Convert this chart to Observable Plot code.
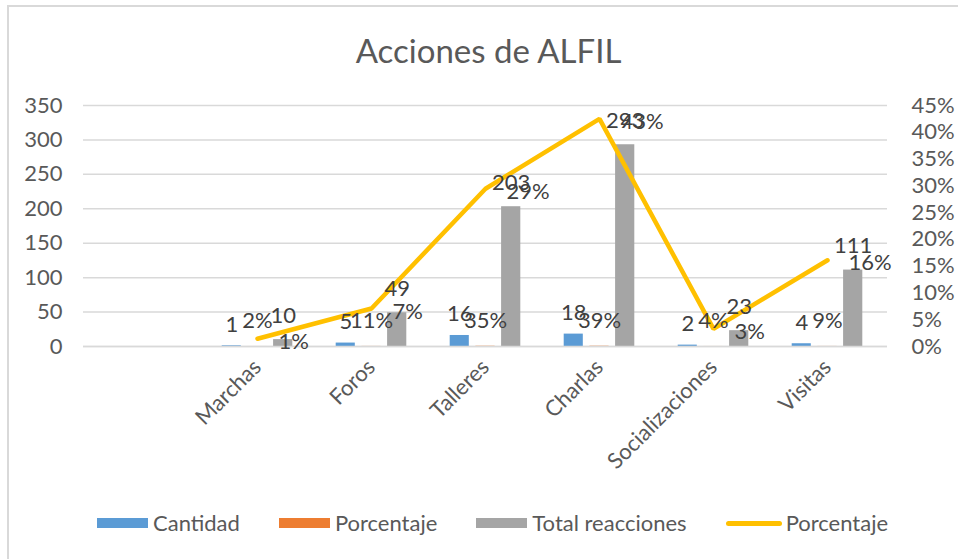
<!DOCTYPE html>
<html>
<head>
<meta charset="utf-8">
<script src="https://cdn.jsdelivr.net/npm/d3@7"></script>
<script src="https://cdn.jsdelivr.net/npm/@observablehq/plot@0.6"></script>
<style>
  body { margin: 0; background: #fff; font-family: Lato, "Open Sans", sans-serif; }
  #wrap { position: relative; width: 958px; height: 559px; overflow: hidden; background: #fff; }
  #frame { position: absolute; left: 7px; top: 5px; width: 1000px; height: 600px;
           border-left: 2px solid #d9d9d9; border-top: 2px solid #d9d9d9; pointer-events: none; }
  #chart { position: absolute; left: 0; top: 0; }
  #title { position: absolute; left: 0; width: 977px; top: 30px; text-align: center;
           font-size: 33px; color: #595959; line-height: 40px; }
  #legend { position: absolute; left: 97px; top: 510px; display: flex; align-items: center;
            font-size: 22px; color: #595959; line-height: 26px; }
  .item { display: flex; align-items: center; margin-right: 39px; }
  .item:last-child { margin-right: 0; }
  .sw { width: 51px; height: 10px; margin-right: 5px; }
  .ln { width: 56px; height: 5px; border-radius: 3px; margin-right: 4px; }
</style>
</head>
<body>
<div id="wrap">
  <div id="title">Acciones de ALFIL</div>
  <div id="chart"></div>
  <div id="legend"></div>
  <div id="frame"></div>
</div>
<script>
// ---- data ----
const categories = ["", "Marchas", "Foros", "Talleres", "Charlas", "Socializaciones", "Visitas"];
const actions = ["Marchas", "Foros", "Talleres", "Charlas", "Socializaciones", "Visitas"];
const cantidad = [1, 5, 16, 18, 2, 4];
const porcentaje = [0.02, 0.11, 0.35, 0.39, 0.04, 0.09];
const totalReacciones = [10, 49, 203, 293, 23, 111];
const porcentajeReacciones = [0.0145, 0.071, 0.2946, 0.425, 0.033, 0.161];
const leftTicks = [0, 50, 100, 150, 200, 250, 300, 350];
const rightTicks = [0, 0.05, 0.10, 0.15, 0.20, 0.25, 0.30, 0.35, 0.40, 0.45];
const seriesNames = ["Cantidad", "Porcentaje", "Total reacciones", "Porcentaje"];
const colors = ["#5B9BD5", "#ED7D31", "#A5A5A5", "#FFC000"];

const leftMax = 350, rightMax = 0.45;
const toLeft = p => p * leftMax / rightMax;

const rows = actions.map((a, i) => ({
  cat: a, cantidad: cantidad[i], porcentaje: porcentaje[i],
  total: totalReacciones[i], pct: porcentajeReacciones[i], pctL: toLeft(porcentajeReacciones[i])
}));

const pctFmt = p => Math.round(p * 100) + "%";
const labelColor = "#404040";
const fs = 22;

const chart = Plot.plot({
  width: 958,
  height: 559,
  marginTop: 105,
  marginBottom: 213,
  marginLeft: 83,
  marginRight: 71,
  style: { fontFamily: "Lato, 'Open Sans', sans-serif", fontSize: fs + "px", color: "#595959", background: "transparent" },
  x: { domain: categories, padding: 0 },
  y: { domain: [0, leftMax] },
  marks: [
    Plot.gridY(leftTicks, { stroke: "#d9d9d9", strokeOpacity: 1, strokeWidth: 1.5 }),
    Plot.axisY(leftTicks, { anchor: "left", tickSize: 0, tickPadding: 21, fontSize: fs, fill: "#595959", label: null }),
    Plot.axisY(rightTicks.map(toLeft), { anchor: "right", tickSize: 0, tickPadding: 24, fontSize: fs, fill: "#595959", label: null,
      textAnchor: "start", tickFormat: d => pctFmt(d * rightMax / leftMax) }),
    Plot.axisX({ tickSize: 0, tickRotate: -45, tickPadding: 17, fontSize: fs, fill: "#595959", label: null, dx: 0, tickFormat: d => d }),
    Plot.barY(rows, { x: "cat", y: "cantidad", fill: colors[0], insetLeft: 21.7, insetRight: 73.2 }),
    Plot.barY(rows, { x: "cat", y: "porcentaje", fill: colors[1], insetLeft: 47.4, insetRight: 47.4 }),
    Plot.barY(rows, { x: "cat", y: "total", fill: colors[2], insetLeft: 73.1, insetRight: 21.7 }),
    Plot.ruleY([0], { stroke: "#d9d9d9", strokeWidth: 1.5 }),
    Plot.line(rows, { x: "cat", y: "pctL", stroke: colors[3], strokeWidth: 4.5, strokeLinecap: "round", strokeLinejoin: "miter" }),
    Plot.text(rows, { x: "cat", y: "cantidad", text: d => String(d.cantidad), dx: -25.7, dy: -14, lineAnchor: "bottom", fill: labelColor, fontSize: fs }),
    Plot.text(rows, { x: "cat", y: "porcentaje", text: d => pctFmt(d.porcentaje), dy: -18, lineAnchor: "bottom", fill: labelColor, fontSize: fs }),
    Plot.text(rows, { x: "cat", y: "total", text: d => String(d.total), dx: 25.7, dy: -17, lineAnchor: "bottom", fill: labelColor, fontSize: fs }),
    Plot.text(rows, { x: "cat", y: "pctL", text: d => pctFmt(d.pct), dx: 21, dy: 3, textAnchor: "start", lineAnchor: "middle", fill: labelColor, fontSize: fs })
  ]
});
document.getElementById("chart").appendChild(chart);

const legend = document.getElementById("legend");
seriesNames.forEach((name, i) => {
  const item = document.createElement("div");
  item.className = "item";
  const sw = document.createElement("div");
  sw.className = i === 3 ? "ln" : "sw";
  sw.style.background = colors[i];
  const t = document.createElement("span");
  t.textContent = name;
  item.appendChild(sw); item.appendChild(t);
  legend.appendChild(item);
});
</script>
</body>
</html>
